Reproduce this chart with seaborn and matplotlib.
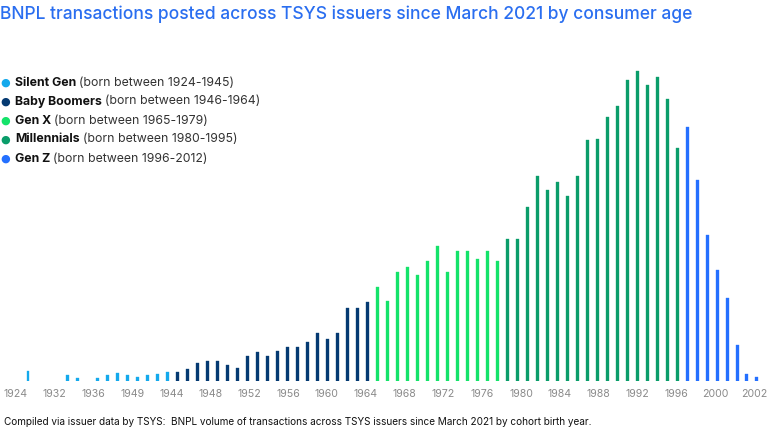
import numpy as np
import pandas as pd
import matplotlib
matplotlib.use("Agg")
import matplotlib.pyplot as plt
import seaborn as sns

# ---- data (arbitrary units) ----
silent_vals = [10, None, None, None, 6, 3.3, None, 3.3, 6.3, 8, 6.3, 4.3, 6, 7, 8.7]
boomer_vals = [8.7, 11.7, 17.7, 20, 20, 15.7, 12.7, 24.7, 28.7, 24.7, 29.7, 34, 34,
               39, 48, 42, 48, 73, 73, 78.7]
genx_vals = [94.3, 80.5, 108.7, 113.7, 105.7, 120.4, 135, 108.7, 130.4, 130.4,
             122.4, 130.4, 120.4]
millennial_vals = [141.7, 141.7, 173.7, 205, 191.4, 199, 185.4, 205, 240.7, 242.3,
                   263.7, 275.3, 300.7, 310.3, 296, 303.7, 282, 232.7]
genz_vals = [254, 200.7, 146.3, 111, 83, 36.3, 7, 4.3]

gen_names = ["Silent Gen", "Baby Boomers", "Gen X", "Millennials", "Gen Z"]
gen_ranges = ["(born between 1924-1945)", "(born between 1946-1964)",
              "(born between 1965-1979)", "(born between 1980-1995)",
              "(born between 1996-2012)"]
gen_colors = ["#14A9EC", "#053A72", "#14E36A", "#0A9D6A", "#2470FF"]

tick_labels = ["1924", "1932", "1936", "1949", "1944", "1948", "1952", "1956", "1960",
               "1964", "1968", "1972", "1976", "1980", "1984", "1988", "1992", "1996",
               "2000", "2002"]

title = "BNPL transactions posted across TSYS issuers since March 2021 by consumer age"
footer = ("Compiled via issuer data by TSYS:  BNPL volume of transactions across TSYS "
          "issuers since March 2021 by cohort birth year.")

# ---- build table ----
first_year = 1930
rows = []
year = first_year
for name, vals in zip(gen_names, [silent_vals, boomer_vals, genx_vals,
                                  millennial_vals, genz_vals]):
    for v in vals:
        rows.append({"year": str(year), "value": v, "gen": name})
        year += 1
df = pd.DataFrame(rows)
order = list(df["year"])
df = df.dropna(subset=["value"])

# ---- figure ----
W, H = 768, 436
sns.set_style("white")
plt.rcParams["font.family"] = ["Inter", "DejaVu Sans"]
fig = plt.figure(figsize=(W / 100, H / 100), dpi=100)

base_px = 381          # baseline y (from top)
top_px = 60
ax = fig.add_axes([0, (H - base_px) / H, 1, (base_px - top_px) / H])

sns.barplot(data=df, x="year", y="value", hue="gen", order=order,
            hue_order=gen_names, palette=gen_colors, dodge=False, width=0.3,
            legend=False, ax=ax, saturation=1, linewidth=0.25)
for p in ax.patches:
    p.set_edgecolor(p.get_facecolor())

slot = 9.986
x0 = 28
ax.set_xlim(-x0 / slot, (W - x0) / slot)
ax.set_ylim(0, base_px - top_px)
for s in ax.spines.values():
    s.set_visible(False)
ax.set_ylabel("")
ax.set_xlabel("")
ax.set_yticks([])
tick_pos = (np.linspace(16, 754, len(tick_labels)) - x0) / slot
ax.set_xticks(tick_pos)
ax.set_xticklabels(tick_labels, fontsize=7.6, color="#8a8a8a")
ax.tick_params(axis="x", length=0, pad=6)

# title
fig.text(0.0, 1 - 14 / H, title, fontsize=12.55, color="#2A6EF0", fontweight="medium",
         ha="left", va="center")

# legend
renderer = fig.canvas.get_renderer()
for i, (name, rng, col) in enumerate(zip(gen_names, gen_ranges, gen_colors)):
    y = 1 - (82.5 + i * 19) / H
    fig.text(5 / W, y, "\u25CF", color=col, fontsize=8, ha="center", va="center",
             family="DejaVu Sans")
    t = fig.text(15 / W, y, name, fontsize=8.85, fontweight="bold", color="#111111",
                 ha="left", va="center")
    bb = t.get_window_extent(renderer)
    fig.text((bb.x1 + 3) / W, y, rng, fontsize=8.85, color="#333333",
             ha="left", va="center")

# footer
fig.text(4 / W, 1 - 422 / H, footer, fontsize=7.2, color="#111111",
         ha="left", va="center")

fig.savefig("out.png", dpi=100)
